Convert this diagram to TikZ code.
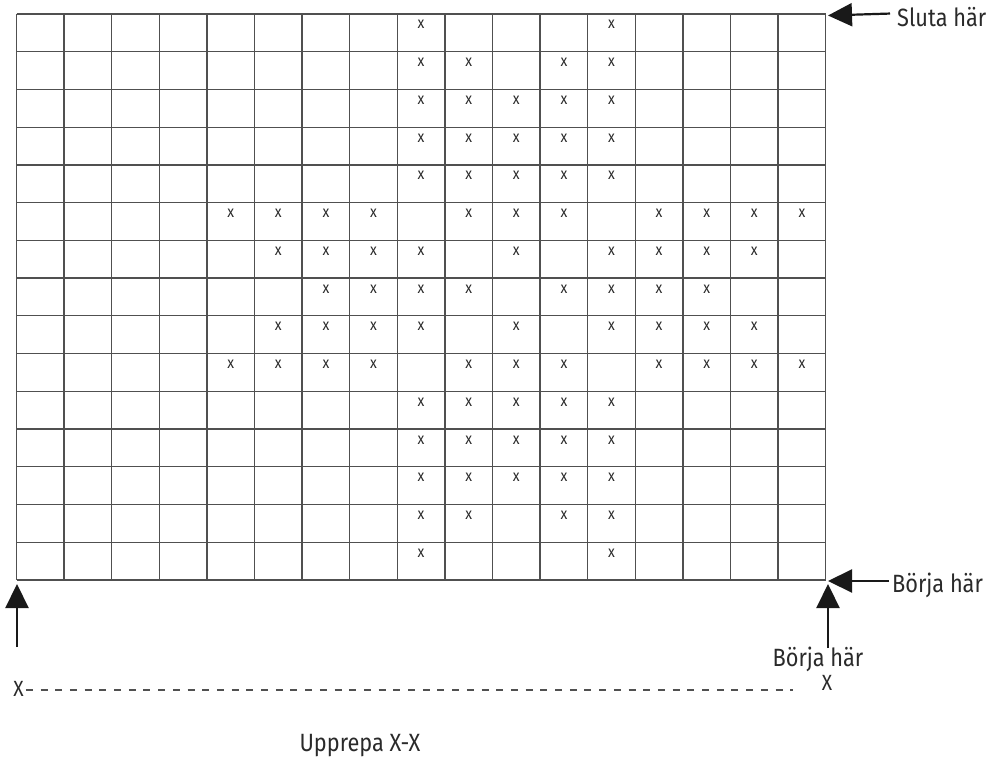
\documentclass[tikz,border=0pt]{standalone}
\usepackage{fontspec}
\setmainfont{Fira Sans}[FakeStretch=0.87]
\usetikzlibrary{arrows.meta}
\definecolor{ink}{HTML}{2A2A2A}
\definecolor{gridc}{HTML}{505050}
\begin{document}
\begin{tikzpicture}[x=1pt,y=-1pt,
  gridline/.style={draw=gridc, line width=1.3pt},
  xmark/.style={font=\fontsize{16}{16}\selectfont, text=ink, inner sep=0pt, anchor=base},
  lbl/.style={font=\fontsize{25}{25}\selectfont, text=ink, inner sep=0pt},
  smallx/.style={font=\fontsize{22}{22}\selectfont, text=ink, inner sep=0pt},
  arr/.style={-{Triangle[length=24pt,width=23pt]}, line width=2.2pt, draw=black!90},
  dashline/.style={draw=gridc, line width=1.3pt, dash pattern=on 7pt off 7.7pt}]
\useasboundingbox (0,0) rectangle (990,762);
% grid
\foreach \i in {0,...,17} \draw[gridline] ({16.5+\i*47.6},14) -- ({16.5+\i*47.6},580);
\foreach \j in {0,...,15} \draw[gridline] (16.5,{14+\j*37.73}) -- (826,{14+\j*37.73});
% marks
\foreach \r/\cols in {1/{9,13},2/{9,10,12,13},3/{9,10,11,12,13},4/{9,10,11,12,13},5/{9,10,11,12,13},
  6/{5,6,7,8,10,11,12,14,15,16,17},7/{6,7,8,9,11,13,14,15,16},8/{7,8,9,10,12,13,14,15},
  9/{6,7,8,9,11,13,14,15,16},10/{5,6,7,8,10,11,12,14,15,16,17},
  11/{9,10,11,12,13},12/{9,10,11,12,13},13/{9,10,11,12,13},14/{9,10,12,13},15/{9,13}}
  {\foreach \c in \cols
    \node[xmark] (m-\r-\c) at ({16.5+(\c-0.5)*47.6},{14+(\r-1)*37.73+15}) {x};}
% corners
\coordinate (tr) at (828,15.5);
\coordinate (br) at (828,581);
\coordinate (brv) at (828,584);
\coordinate (bl) at (17,584);
\coordinate (blstart) at (17,647);
% Sluta här
\node[lbl, anchor=base west] (sluta) at (897,27) {Sluta här};
\draw[arr] ([xshift=-7pt,yshift=4pt]sluta.west) -- (tr);
% Börja här (right)
\node[lbl, anchor=base west] (borja1) at (892,592) {Börja här};
\coordinate (b1s) at (889,581);
\draw[arr] (b1s) -- (br);
% Börja här (below)
\node[lbl, anchor=base] (borja2) at (818,666) {Börja här};
\coordinate (b2s) at (828,648);
\draw[arr] (b2s) -- (brv);
\node[smallx, anchor=base] (xr) at (827,690) {X};
% left arrow
\draw[arr] (blstart) -- (bl);
% repeat line
\node[smallx, anchor=base] (xl) at (18.5,696) {X};
\coordinate (dend) at (793,690);
\draw[dashline] ([xshift=2pt]xl.east |- dend) -- (dend);
\node[lbl, anchor=base] (upp) at (360,751) {Upprepa X-X};
\end{tikzpicture}
\end{document}
